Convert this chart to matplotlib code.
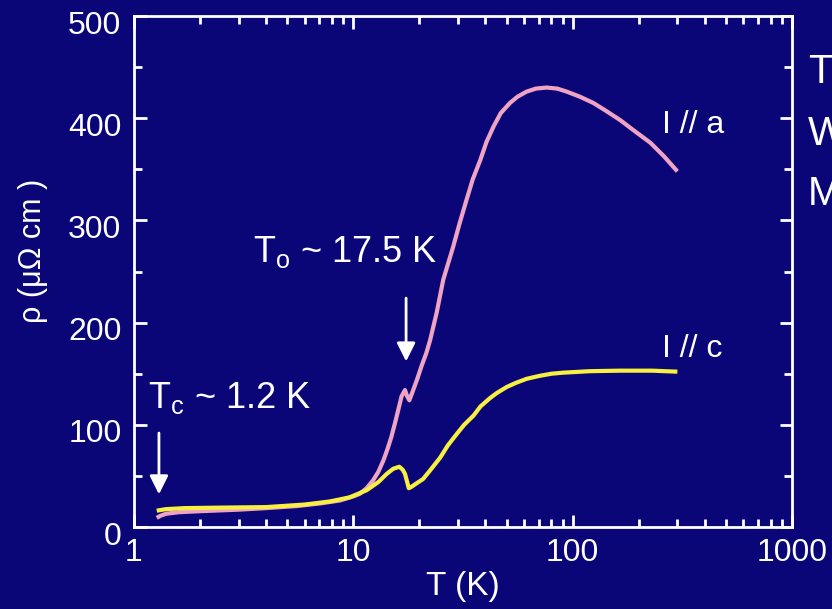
import numpy as np
import matplotlib
matplotlib.use("Agg")
import matplotlib.pyplot as plt
from matplotlib.ticker import FixedLocator, MultipleLocator, NullFormatter, LogLocator
from matplotlib.transforms import ScaledTranslation

plt.rcParams['font.family'] = ['Liberation Sans', 'DejaVu Sans']

# I // a (pink)
T_a = [1.27, 1.32, 1.4, 1.6, 2.0, 3.0, 4.0, 5.5, 7.0, 8.7, 10.0, 10.7, 11.5, 12.3,
       13.0, 13.7, 14.3, 14.9, 15.5, 16.0, 16.6, 17.2, 17.6, 18.0, 18.6, 19.5,
       20.5, 21.5, 22.4, 24.0, 25.7, 28.5, 30.5, 32.8, 35.0, 37.9, 40.5, 43.6,
       47, 51.8, 56, 61.6, 68, 76, 85, 94, 108, 124, 140, 165, 190, 226, 260, 300]
rho_a = [9, 11, 13, 14.5, 15.5, 17, 18.5, 20.5, 23, 26, 30, 32.5, 38, 45.6,
         54, 65, 76, 88, 102, 114, 128, 134, 128, 124, 132, 144,
         158, 170, 183, 210, 242, 274, 297, 320, 340, 359, 377, 392,
         405, 415, 421, 426, 429, 430, 429, 426, 421, 415, 408, 398, 388, 376, 363, 348]

# I // c (yellow)
T_c = [1.27, 1.4, 1.7, 2.5, 4.0, 6.0, 7.8, 9.6, 11.5, 13.0, 14.2, 15.2, 16.2,
       16.8, 17.2, 17.6, 17.9, 18.3, 19.5, 20.8, 22.5, 24.9, 27, 29.6, 32, 35.3,
       38, 41.9, 45, 50, 55, 61.6, 71, 80, 90, 120, 165, 230, 300]
rho_c = [16, 17.5, 18.5, 19, 19.5, 22, 25, 29, 36, 44, 52, 57, 59,
         56, 52, 44, 38, 39, 43, 47, 56, 68, 80, 91, 100, 109,
         118, 126, 131, 137, 141, 145, 148, 150, 151, 152.5, 153, 153, 152]

x_ticks = [1, 10, 100, 1000]
x_labels = ['1', '10', '100', '1000']
y_ticks = [0, 100, 200, 300, 400, 500]

bg = '#0a0678'
fig = plt.figure(figsize=(8.32, 6.09), dpi=100, facecolor=bg)
ax = fig.add_axes([0.161, 0.1346, 0.791, 0.8391], facecolor=bg)

ax.plot(T_a, rho_a, color='#f0a4c4', lw=3, solid_capstyle='butt')
ax.plot(T_c, rho_c, color='#f8f040', lw=3, solid_capstyle='butt')

ax.set_xscale('log')
ax.set_xlim(1, 1000)
ax.set_ylim(0, 500)
ax.xaxis.set_major_locator(FixedLocator(x_ticks))
ax.set_xticklabels(x_labels)
ax.xaxis.set_minor_locator(LogLocator(base=10, subs=np.arange(2, 10)))
ax.xaxis.set_minor_formatter(NullFormatter())
ax.set_yticks(y_ticks)
ax.yaxis.set_minor_locator(MultipleLocator(50))

for s in ax.spines.values():
    s.set_color('white')
    s.set_linewidth(2)
ax.tick_params(which='both', direction='in', top=True, right=True, colors='white',
               labelsize=23)
ax.tick_params(which='major', length=9, width=2)
ax.tick_params(which='minor', length=6, width=2)
ax.tick_params(axis='y', pad=9)
ax.tick_params(axis='x', pad=8)

off = ScaledTranslation(0, -0.06, fig.dpi_scale_trans)
for lab in ax.get_yticklabels():
    lab.set_transform(lab.get_transform() + off)

ax.set_xlabel('T (K)', color='white', fontsize=24, labelpad=2)
ax.set_ylabel('ρ (μΩ cm )', color='white', fontsize=22)
ax.yaxis.set_label_coords(-0.13, 0.54)

ax.text(1.16, 116, r'T$_\mathregular{c}$ ~ 1.2 K', color='white', fontsize=26, va='baseline')
ax.text(3.49, 259, r'T$_\mathregular{o}$ ~ 17.5 K', color='white', fontsize=26, va='baseline')
ax.text(256, 386, 'I // a', color='white', fontsize=23, va='baseline')
ax.text(256, 166, 'I // c', color='white', fontsize=23, va='baseline')

arrow = dict(arrowstyle='-|>', color='white', lw=2, mutation_scale=28, shrinkA=0, shrinkB=0)
ax.annotate('', xy=(1.30, 32), xytext=(1.30, 92), arrowprops=arrow)
ax.annotate('', xy=(17.4, 162), xytext=(17.4, 224), arrowprops=arrow)

for txt, yb in [('T', 83), ('W', 145), ('M', 205)]:
    fig.text(808 / 832, 1 - yb / 609, txt, color='white', fontsize=29, va='baseline')

fig.savefig('out.png', dpi=100, facecolor=bg)
